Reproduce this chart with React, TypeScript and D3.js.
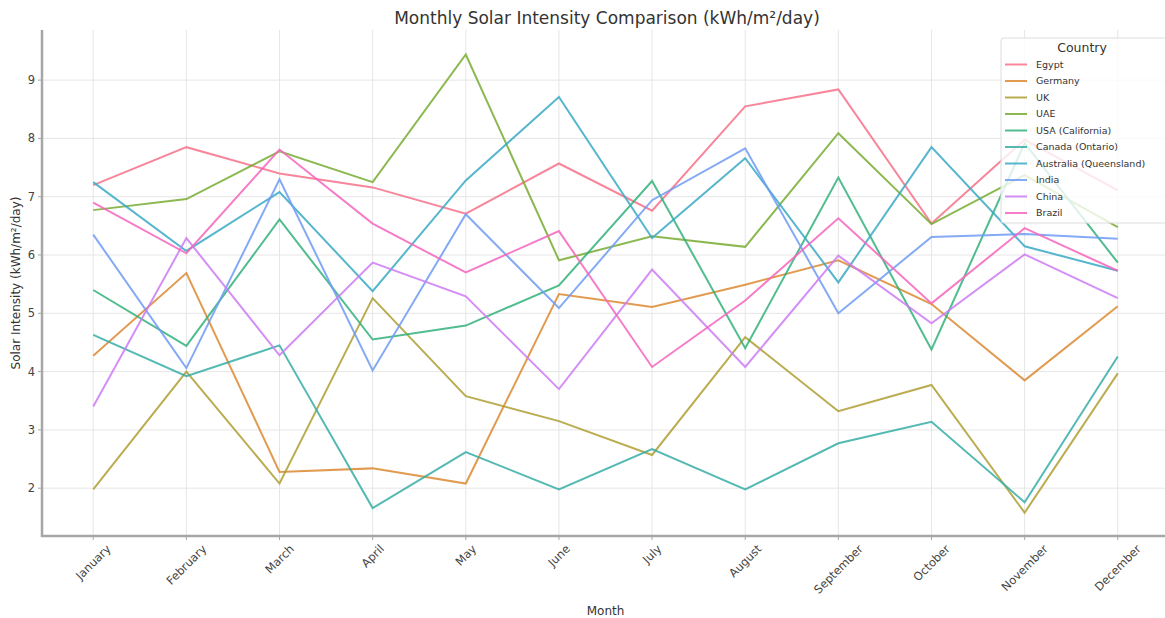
import React from "react";
import * as d3 from "d3";

const months = ["January","February","March","April","May","June","July","August","September","October","November","December"];
const yTicks = [2,3,4,5,6,7,8,9];
const countries = ["Egypt","Germany","UK","UAE","USA (California)","Canada (Ontario)","Australia (Queensland)","India","China","Brazil"];
const colors = ["#f77189","#dc8932","#ae9d31","#77ab31","#33b07a","#36ada4","#38a9c5","#6e9bf4","#cc7af4","#f565bd"];

const egypt = [7.2,7.85,7.4,7.16,6.71,7.57,6.76,8.55,8.84,6.54,7.98,7.11];
const germany = [4.27,5.69,2.28,2.34,2.08,5.33,5.11,5.49,5.91,5.16,3.85,5.12];
const uk = [1.98,4.0,2.08,5.26,3.58,3.15,2.57,4.59,3.32,3.77,1.58,3.97];
const uae = [6.77,6.96,7.78,7.25,9.44,5.91,6.32,6.14,8.09,6.53,7.37,6.48];
const usa = [5.4,4.44,6.61,4.55,4.79,5.48,7.27,4.4,7.33,4.38,7.92,5.87];
const canada = [4.63,3.92,4.45,1.66,2.62,1.98,2.67,1.98,2.77,3.14,1.76,4.26];
const australia = [7.25,6.07,7.08,5.38,7.28,8.71,6.29,7.66,5.53,7.85,6.15,5.73];
const india = [6.35,4.06,7.3,4.02,6.7,5.09,6.94,7.83,5.0,6.31,6.36,6.28];
const china = [3.4,6.29,4.28,5.87,5.29,3.7,5.75,4.08,5.99,4.83,6.01,5.26];
const brazil = [6.9,6.03,7.81,6.54,5.7,6.41,4.08,5.22,6.63,5.17,6.46,5.73];

const series = [egypt, germany, uk, uae, usa, canada, australia, india, china, brazil];

const W = 1165, H = 618;
const FONT = "'DejaVu Sans', sans-serif";

let ctx: CanvasRenderingContext2D | null = null;
function measure(text: string, size: number): number {
  if (!ctx) {
    const c = document.createElement("canvas");
    ctx = c.getContext("2d");
  }
  if (!ctx) return text.length * size * 0.6;
  ctx.font = `${size}px 'DejaVu Sans'`;
  return ctx.measureText(text).width;
}

export default function App() {
  const x = d3.scaleLinear().domain([-0.55, 11.55]).range([42, 1169]);
  const y = d3.scaleLinear().domain([1.18, 9.86]).range([536, 30]);
  const line = d3.line<number>().x((_, i) => x(i)).y((d) => y(d));

  const tickSize = 11.5;
  const labelH = tickSize * 1.16;

  return (
    <svg width={W} height={H} style={{ position: "absolute", left: 0, top: 0, display: "block", background: "#fff" }} fontFamily={FONT}>
      <rect x={0} y={0} width={W} height={H} fill="#fff" />
      {/* grid */}
      {months.map((m, i) => (
        <line key={"gx" + m} x1={x(i)} x2={x(i)} y1={30} y2={536} stroke="#e6e6e6" strokeWidth={1} />
      ))}
      {yTicks.map((t) => (
        <line key={"gy" + t} x1={42} x2={1169} y1={y(t)} y2={y(t)} stroke="#e6e6e6" strokeWidth={1} />
      ))}
      {/* lines */}
      {series.map((s, k) => (
        <path key={countries[k]} d={line(s) || ""} fill="none" stroke={colors[k]} strokeWidth={2} strokeOpacity={0.85} strokeLinejoin="miter" />
      ))}
      {/* spines */}
      <line x1={42} x2={42} y1={30} y2={537} stroke="#a6a6a6" strokeWidth={2.5} />
      <line x1={41} x2={1169} y1={536} y2={536} stroke="#a6a6a6" strokeWidth={2.5} />
      {/* y ticks */}
      {yTicks.map((t) => (
        <g key={"yt" + t}>
          <line x1={38} x2={42} y1={y(t)} y2={y(t)} stroke="#a6a6a6" strokeWidth={1} />
          <text x={35} y={y(t)} dy="0.35em" textAnchor="end" fontSize={tickSize} fill="#444">{t}</text>
        </g>
      ))}
      {/* x ticks */}
      {months.map((m, i) => {
        const w = measure(m, tickSize);
        const half = (w + labelH) / (2 * Math.SQRT2);
        const cx = x(i);
        const cy = 542 + half;
        return (
          <g key={"xt" + m}>
            <line x1={cx} x2={cx} y1={536} y2={540} stroke="#a6a6a6" strokeWidth={1} />
            <text transform={`translate(${cx},${cy}) rotate(-45)`} textAnchor="middle" dy="0.35em" fontSize={tickSize} fill="#444">{m}</text>
          </g>
        );
      })}
      {/* axis labels */}
      <text x={605.5} y={615} textAnchor="middle" fontSize={12} fill="#333">Month</text>
      <text transform={`translate(20,283) rotate(-90)`} textAnchor="middle" fontSize={12} fill="#333">Solar Intensity (kWh/m²/day)</text>
      <text x={607} y={24} textAnchor="middle" fontSize={17} fill="#333">Monthly Solar Intensity Comparison (kWh/m²/day)</text>
      {/* legend */}
      <g>
        <rect x={1001} y={38} width={180} height={185} rx={3} fill="#fff" fillOpacity={0.8} stroke="#dcdcdc" strokeWidth={1} />
        <text x={1082} y={51.5} textAnchor="middle" fontSize={12.5} fill="#333">Country</text>
        {countries.map((c, k) => {
          const ly = 64.5 + k * 16.5;
          return (
            <g key={"lg" + c}>
              <line x1={1005} x2={1027} y1={ly} y2={ly} stroke={colors[k]} strokeWidth={2} strokeOpacity={0.85} />
              <text x={1036} y={ly} dy="0.35em" fontSize={9.5} fill="#333">{c}</text>
            </g>
          );
        })}
      </g>
    </svg>
  );
}
